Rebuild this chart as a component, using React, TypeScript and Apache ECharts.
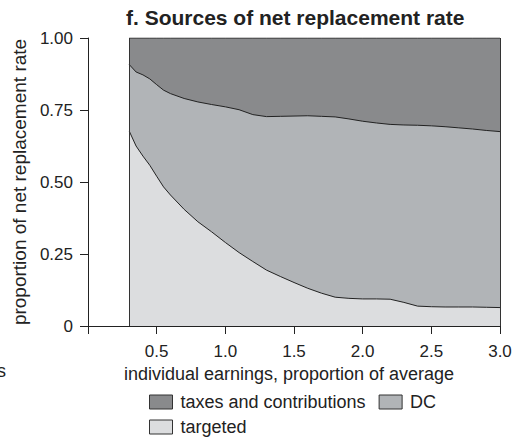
import React, { useEffect, useRef } from 'react';
import * as echarts from 'echarts';

const earnings = [0.3, 0.35, 0.4, 0.45, 0.5, 0.55, 0.6, 0.7, 0.8, 0.9, 1.0, 1.1, 1.2, 1.3, 1.4, 1.5, 1.6, 1.7, 1.8, 1.9, 2.0, 2.1, 2.2, 2.3, 2.4, 2.5, 2.6, 2.7, 2.8, 2.9, 3.0];
const targeted = [0.677, 0.625, 0.59, 0.558, 0.52, 0.483, 0.455, 0.405, 0.362, 0.327, 0.29, 0.255, 0.224, 0.194, 0.172, 0.151, 0.131, 0.114, 0.1, 0.096, 0.094, 0.094, 0.093, 0.082, 0.069, 0.067, 0.066, 0.066, 0.066, 0.065, 0.064];
const dc = [0.231, 0.257, 0.282, 0.3, 0.318, 0.336, 0.352, 0.385, 0.416, 0.442, 0.471, 0.496, 0.51, 0.533, 0.556, 0.578, 0.599, 0.614, 0.626, 0.623, 0.617, 0.611, 0.607, 0.616, 0.628, 0.628, 0.626, 0.622, 0.618, 0.614, 0.611];
const taxes = [0.092, 0.118, 0.128, 0.142, 0.162, 0.181, 0.193, 0.21, 0.222, 0.231, 0.239, 0.249, 0.266, 0.273, 0.272, 0.271, 0.27, 0.272, 0.274, 0.281, 0.289, 0.295, 0.3, 0.302, 0.303, 0.305, 0.308, 0.312, 0.316, 0.321, 0.325];

const FONT = '"Liberation Sans", Arial, Helvetica, sans-serif';
const INK = '#222';

export default function App() {
  const ref = useRef<HTMLDivElement>(null);
  useEffect(() => {
    if (!ref.current) return;
    const chart = echarts.init(ref.current, undefined, { renderer: 'svg' });

    // Layers drawn back to front; each filled down to zero, cumulative from the series arrays.
    const layers = [
      { name: 'taxes and contributions', fill: '#898a8c', parts: [targeted, dc, taxes] },
      { name: 'DC', fill: '#b1b4b7', parts: [targeted, dc] },
      { name: 'targeted', fill: '#dcdddf', parts: [targeted] },
    ];
    const series: any[] = layers.map((layer, li) => ({
      name: layer.name,
      type: 'line',
      showSymbol: false,
      symbol: 'none',
      data: earnings.map((x, i) => [x, layer.parts.reduce((s, arr) => s + arr[i], 0)]),
      lineStyle: { color: INK, width: 1 },
      itemStyle: { color: layer.fill },
      areaStyle: { color: layer.fill, opacity: 1, origin: 'start' },
      z: 2 + li,
    }));
    series[2].markLine = {
      silent: true,
      symbol: ['none', 'none'],
      label: { show: false },
      lineStyle: { color: '#333', width: 1, type: 'solid' },
      data: [{ xAxis: earnings[0] }, { xAxis: earnings[earnings.length - 1] }],
    };
    const legendCommon = {
      icon: 'rect',
      itemWidth: 23,
      itemHeight: 14,
      itemGap: 13,
      padding: 0,
      orient: 'horizontal',
      textStyle: { fontFamily: FONT, fontSize: 18, color: INK, padding: [0, 0, 0, 3] },
      itemStyle: { borderColor: '#333', borderWidth: 1 },
    };
    chart.setOption({
      animation: false,
      backgroundColor: '#fff',
      title: {
        text: 'f. Sources of net replacement rate',
        left: 126,
        top: 7,
        padding: 0,
        textStyle: { fontFamily: FONT, fontSize: 21, fontWeight: 'bold', color: INK },
      },
      grid: { left: 88, right: 19, top: 38, bottom: 113 },
      legend: [
        { ...legendCommon, left: 149, top: 393, data: ['taxes and contributions', 'DC'] },
        { ...legendCommon, left: 149, top: 418, data: ['targeted'] },
      ],
      xAxis: {
        type: 'value',
        min: 0,
        max: 3,
        interval: 0.5,
        name: 'individual earnings, proportion of average',
        nameLocation: 'middle',
        nameGap: 37,
        nameTextStyle: { fontFamily: FONT, fontSize: 18, color: INK, padding: [0, 10, 0, 0] },
        axisLine: { lineStyle: { color: INK, width: 1 } },
        axisTick: { show: true, length: 8, lineStyle: { color: INK } },
        axisLabel: {
          fontFamily: FONT,
          fontSize: 17,
          color: INK,
          margin: 17,
          formatter: (v: number) => (v === 0 ? '' : v.toFixed(1)),
        },
        splitLine: { show: false },
      },
      yAxis: {
        type: 'value',
        min: 0,
        max: 1,
        interval: 0.25,
        name: 'proportion of net replacement rate',
        nameLocation: 'middle',
        nameRotate: 90,
        nameGap: 59,
        nameTextStyle: { fontFamily: FONT, fontSize: 19, color: INK },
        axisLine: { show: true, lineStyle: { color: INK, width: 1 } },
        axisTick: { show: true, length: 8, lineStyle: { color: INK } },
        axisLabel: {
          fontFamily: FONT,
          fontSize: 17,
          color: INK,
          margin: 15,
          formatter: (v: number) => (v === 0 ? '0' : v.toFixed(2)),
        },
        splitLine: { show: false },
      },
      graphic: [
        {
          type: 'text',
          left: -3,
          top: 362,
          style: { text: 's', fontFamily: FONT, fontSize: 18, fill: INK },
        },
      ],
      series,
    });
    return () => chart.dispose();
  }, []);
  return <div ref={ref} style={{ position: 'absolute', left: 0, top: 0, width: 519, height: 439 }} />;
}
